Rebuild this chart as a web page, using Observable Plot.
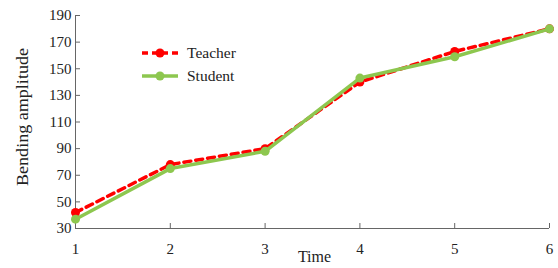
<!DOCTYPE html>
<html><head><meta charset="utf-8">
<script src="https://cdn.jsdelivr.net/npm/d3@7"></script>
<script src="https://cdn.jsdelivr.net/npm/@observablehq/plot@0.6"></script>
<style>
body{margin:0;background:#fff;}
#wrap{position:relative;width:558px;height:268px;font-family:"Liberation Serif","Times New Roman",serif;}
#legend{position:absolute;left:140px;top:41px;font-size:15.5px;color:#222;}
#legend div{display:flex;align-items:center;height:23px;}
#legend span{margin-left:7px;}
</style></head>
<body><div id="wrap"><div id="chart"></div>
<div id="legend">
<div><svg width="40" height="12"><line x1="2" x2="38" y1="6" y2="6" stroke="#ff0000" stroke-width="3.5" stroke-dasharray="6,4"/><circle cx="20" cy="6" r="4.5" fill="#ff0000"/></svg><span>Teacher</span></div>
<div><svg width="40" height="12"><line x1="2" x2="38" y1="6" y2="6" stroke="#8dc74f" stroke-width="3.5"/><circle cx="20" cy="6" r="4.5" fill="#8dc74f"/></svg><span>Student</span></div>
</div></div>
<script>
const times = [1, 2, 3, 4, 5, 6];
const teacher = [42, 78, 90, 140, 163, 180];
const student = [37, 75, 88, 143, 159, 180];
const yTicks = [30, 50, 70, 90, 110, 130, 150, 170, 190];

const tData = times.map((t, i) => ({t, v: teacher[i]}));
const sData = times.map((t, i) => ({t, v: student[i]}));

const chart = Plot.plot({
  width: 558, height: 268,
  marginLeft: 75, marginRight: 9, marginTop: 15, marginBottom: 40,
  style: {fontFamily: '"Liberation Serif","Times New Roman",serif', fontSize: "15px", color: "#222", background: "#fff"},
  x: {domain: [1, 6]},
  y: {domain: [30, 190]},
  marks: [
    Plot.axisX({ticks: times, tickSize: -5, tickPadding: 20, tickFormat: d => String(d), label: null, stroke: "#666"}),
    Plot.axisY({ticks: yTicks, tickSize: -5, tickPadding: 9, label: null, stroke: "#666"}),
    Plot.ruleY([30], {stroke: "#666"}),
    Plot.ruleX([1], {stroke: "#666"}),
    Plot.line(tData, {x: "t", y: "v", stroke: "#ff0000", strokeWidth: 3.5, strokeDasharray: "7,5"}),
    Plot.dot(tData, {x: "t", y: "v", r: 4.5, fill: "#ff0000"}),
    Plot.line(sData, {x: "t", y: "v", stroke: "#8dc74f", strokeWidth: 3.5}),
    Plot.dot(sData, {x: "t", y: "v", r: 4.5, fill: "#8dc74f"}),
    Plot.text(["Time"], {frameAnchor: "bottom", dy: 33, fontSize: 16, dx: 2}),
    Plot.text(["Bending amplitude"], {frameAnchor: "left", textAnchor: "middle", dx: -53, dy: -5, rotate: -90, fontSize: 16, className: "ylab"})
  ]
});
document.getElementById("chart").appendChild(chart);
d3.select(chart).selectAll(".ylab text").attr("textLength", 138).attr("lengthAdjust", "spacingAndGlyphs");
</script>
</body></html>
